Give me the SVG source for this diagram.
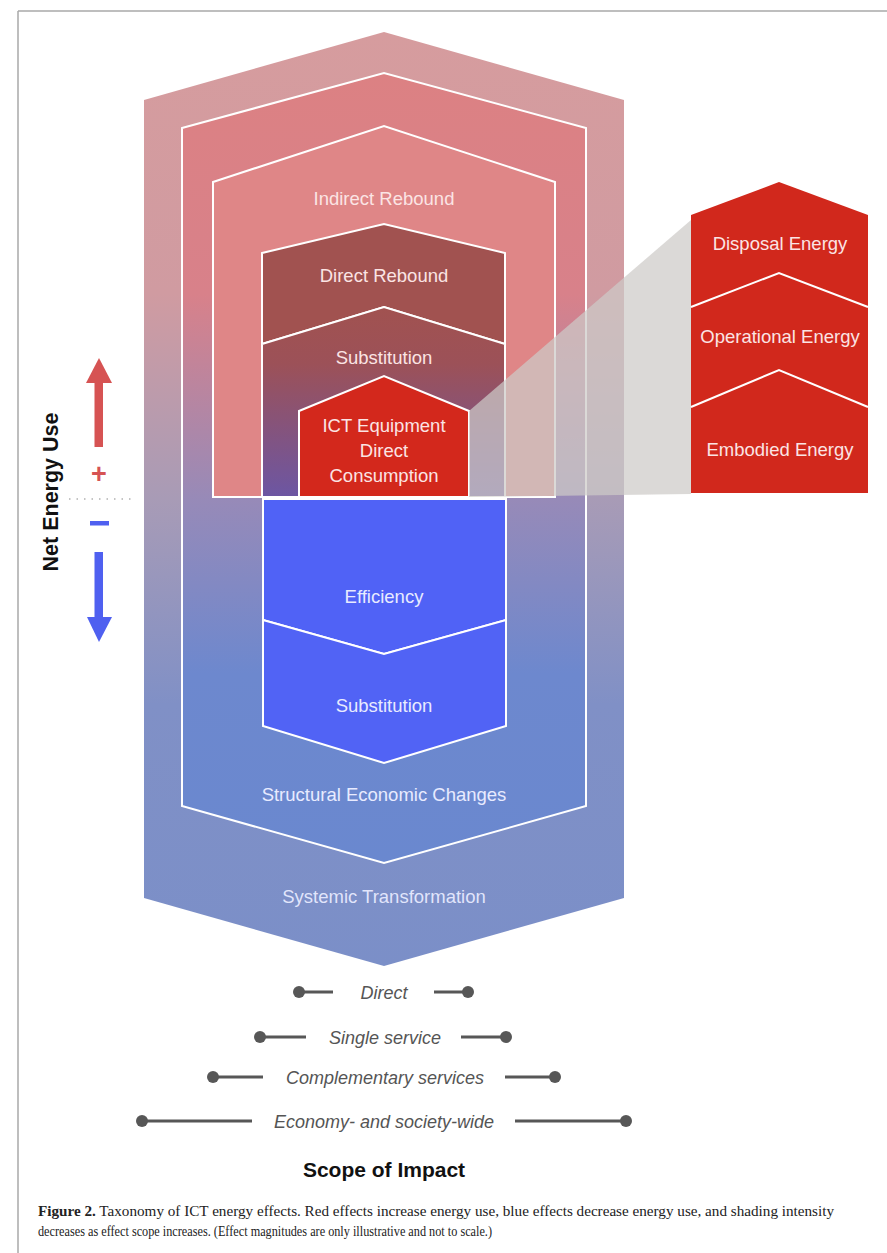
<svg xmlns="http://www.w3.org/2000/svg" width="887" height="1253" viewBox="0 0 887 1253">
  <defs>
    <linearGradient id="gOuter" gradientUnits="userSpaceOnUse" x1="0" y1="32" x2="0" y2="966">
      <stop offset="0" stop-color="#d69c9e"/>
      <stop offset="0.28" stop-color="#d09ba1"/>
      <stop offset="0.5" stop-color="#a89bb6"/>
      <stop offset="0.72" stop-color="#8090c6"/>
      <stop offset="1" stop-color="#7b8fc8"/>
    </linearGradient>
    <linearGradient id="gSecond" gradientUnits="userSpaceOnUse" x1="0" y1="73" x2="0" y2="863">
      <stop offset="0" stop-color="#dc8183"/>
      <stop offset="0.28" stop-color="#d8818a"/>
      <stop offset="0.54" stop-color="#978ab8"/>
      <stop offset="0.76" stop-color="#6d88ce"/>
      <stop offset="1" stop-color="#6a88cf"/>
    </linearGradient>
    <linearGradient id="gSubRed" gradientUnits="userSpaceOnUse" x1="0" y1="307" x2="0" y2="497">
      <stop offset="0" stop-color="#a15250"/>
      <stop offset="0.3" stop-color="#9c5158"/>
      <stop offset="1" stop-color="#6c56a3"/>
    </linearGradient>
    <style>
      .edge { stroke: #ffffff; stroke-width: 2; stroke-linejoin: miter; }
      .lbl { font-family: "Liberation Sans", Arial, sans-serif; font-size: 18.5px; text-anchor: middle; }
      .lbl-red { fill: #fbe4e4; }
      .lbl-blue { fill: #e8ebff; }
      .scope-line { stroke: #575757; stroke-width: 3; }
      .scope-dot { fill: #575757; }
      .scope-txt { font-family: "Liberation Sans", Arial, sans-serif; font-size: 18px; font-style: italic; fill: #555555; text-anchor: middle; }
    </style>
  </defs>

  <rect width="887" height="1253" fill="#ffffff"/>

  <!-- page frame -->
  <g id="frame" stroke="#a8a8a8" stroke-width="1.5" fill="none">
    <line x1="18" y1="11" x2="887" y2="11"/>
    <line x1="18" y1="11" x2="18" y2="1253"/>
  </g>

  <!-- outer layer: systemic transformation -->
  <g id="systemic">
    <polygon points="144,100 384,32 624,100 624,898 384,966 144,898" fill="url(#gOuter)"/>
    <text class="lbl lbl-blue" x="384" y="903" fill-opacity="0.95">Systemic Transformation</text>
  </g>

  <!-- structural economic changes -->
  <g id="structural">
    <polygon class="edge" points="182,128 384,73 586,128 586,806 384,863 182,806" fill="url(#gSecond)"/>
    <text class="lbl lbl-blue" x="384" y="801">Structural Economic Changes</text>
  </g>

  <!-- indirect rebound -->
  <g id="indirect-rebound">
    <polygon class="edge" points="213,182 384,126 555,182 555,497 213,497" fill="#df8687"/>
    <text class="lbl lbl-red" x="384" y="205">Indirect Rebound</text>
  </g>

  <!-- direct rebound -->
  <g id="direct-rebound">
    <polygon class="edge" points="262,253 384,224 505,253 505,344 384,307 262,344" fill="#a15250"/>
    <text class="lbl lbl-red" x="384" y="282">Direct Rebound</text>
  </g>

  <!-- substitution (increase) -->
  <g id="substitution-red">
    <polygon class="edge" points="262,344 384,307 505,344 505,497 262,497" fill="url(#gSubRed)"/>
    <text class="lbl lbl-red" x="384" y="364">Substitution</text>
  </g>

  <!-- ICT equipment -->
  <g id="ict-equipment">
    <polygon class="edge" stroke-width="1.5" points="299,411 384,376 469,411 469,497 299,497" fill="#d3281c"/>
    <text class="lbl lbl-red" x="384" y="432">ICT Equipment</text>
    <text class="lbl lbl-red" x="384" y="457">Direct</text>
    <text class="lbl lbl-red" x="384" y="482">Consumption</text>
  </g>

  <!-- efficiency -->
  <g id="efficiency">
    <polygon class="edge" points="263,499 506,499 506,620 384,654 263,620" fill="#5062f6"/>
    <text class="lbl lbl-blue" x="384" y="603">Efficiency</text>
  </g>

  <!-- substitution (decrease) -->
  <g id="substitution-blue">
    <polygon class="edge" points="263,620 384,654 506,620 506,726 384,763 263,726" fill="#5163f5"/>
    <text class="lbl lbl-blue" x="384" y="712">Substitution</text>
  </g>

  <!-- zoom projection from ICT box to breakdown -->
  <g id="connectors">
    <polygon points="469,411 691,220 691,494 469,497" fill="#cdcac8" fill-opacity="0.72"/>
  </g>

  <!-- lifecycle breakdown -->
  <g id="lifecycle">
    <polygon points="691,215 779,182 868,215 868,493 691,493" fill="#d1281c"/>
    <polyline class="edge" fill="none" points="691,307 779,273 868,307"/>
    <polyline class="edge" fill="none" points="691,407 779,370 868,407"/>
    <text class="lbl lbl-red" x="780" y="250">Disposal Energy</text>
    <text class="lbl lbl-red" x="780" y="343">Operational Energy</text>
    <text class="lbl lbl-red" x="780" y="456">Embodied Energy</text>
  </g>

  <!-- net energy use axis -->
  <g id="net-energy-axis">
    <text x="58" y="492" transform="rotate(-90 58 492)" font-family="'Liberation Sans', Arial, sans-serif" font-size="21.5" font-weight="bold" fill="#111111" text-anchor="middle">Net Energy Use</text>
    <rect x="94.5" y="381" width="8.5" height="66" fill="#d65353"/>
    <polygon points="86,383 99,358 112,383" fill="#d65353"/>
    <text x="99" y="483" font-family="'Liberation Sans', Arial, sans-serif" font-size="27" font-weight="bold" fill="#d65353" text-anchor="middle">+</text>
    <line x1="69" y1="499" x2="131" y2="499" stroke="#8a8a8a" stroke-width="1.2" stroke-dasharray="1.5 6"/>
    <rect x="90" y="521" width="19" height="4.5" fill="#4f60f0"/>
    <rect x="94.5" y="552" width="8.5" height="67" fill="#4f60f0"/>
    <polygon points="87,617 112,617 99,642" fill="#4f60f0"/>
  </g>

  <!-- scope of impact scale -->
  <g id="scope-direct">
    <line class="scope-line" x1="299" y1="992" x2="333" y2="992"/>
    <line class="scope-line" x1="434" y1="992" x2="468" y2="992"/>
    <circle class="scope-dot" cx="299" cy="992" r="6"/>
    <circle class="scope-dot" cx="468" cy="992" r="6"/>
    <text class="scope-txt" x="384" y="999">Direct</text>
  </g>
  <g id="scope-single">
    <line class="scope-line" x1="260" y1="1037" x2="306" y2="1037"/>
    <line class="scope-line" x1="461" y1="1037" x2="506" y2="1037"/>
    <circle class="scope-dot" cx="260" cy="1037" r="6"/>
    <circle class="scope-dot" cx="506" cy="1037" r="6"/>
    <text class="scope-txt" x="385" y="1044">Single service</text>
  </g>
  <g id="scope-complementary">
    <line class="scope-line" x1="213" y1="1077" x2="263" y2="1077"/>
    <line class="scope-line" x1="505" y1="1077" x2="555" y2="1077"/>
    <circle class="scope-dot" cx="213" cy="1077" r="6"/>
    <circle class="scope-dot" cx="555" cy="1077" r="6"/>
    <text class="scope-txt" x="385" y="1084">Complementary services</text>
  </g>
  <g id="scope-economy">
    <line class="scope-line" x1="142" y1="1121" x2="252" y2="1121"/>
    <line class="scope-line" x1="515" y1="1121" x2="626" y2="1121"/>
    <circle class="scope-dot" cx="142" cy="1121" r="6"/>
    <circle class="scope-dot" cx="626" cy="1121" r="6"/>
    <text class="scope-txt" x="384" y="1128">Economy- and society-wide</text>
  </g>
  <text x="384" y="1177" font-family="'Liberation Sans', Arial, sans-serif" font-size="21" font-weight="bold" fill="#111111" text-anchor="middle">Scope of Impact</text>

  <!-- caption -->
  <g id="caption" font-family="'Liberation Serif', 'Times New Roman', serif" font-size="14" fill="#222222">
    <text x="38" y="1216" textLength="796" lengthAdjust="spacingAndGlyphs"><tspan font-weight="bold">Figure 2.</tspan> Taxonomy of ICT energy effects. Red effects increase energy use, blue effects decrease energy use, and shading intensity</text>
    <text x="38" y="1236" textLength="454" lengthAdjust="spacingAndGlyphs">decreases as effect scope increases. (Effect magnitudes are only illustrative and not to scale.)</text>
  </g>
</svg>
